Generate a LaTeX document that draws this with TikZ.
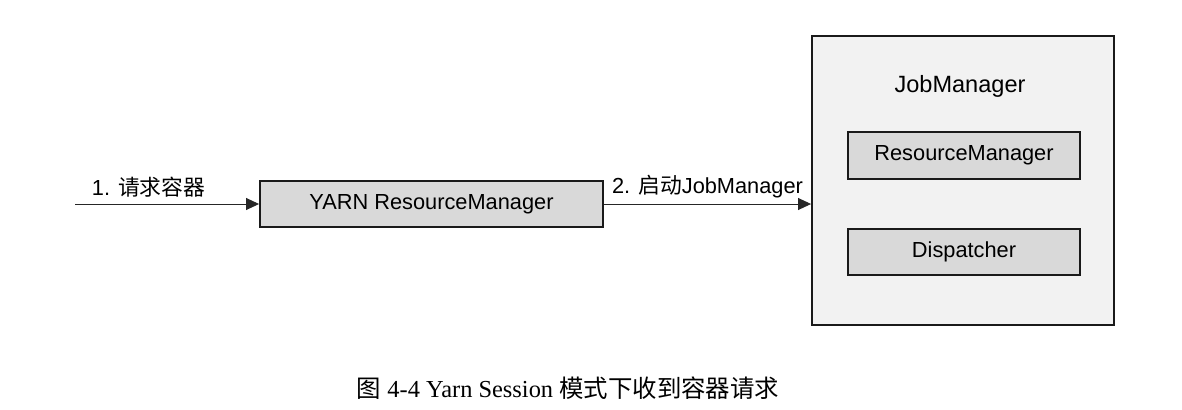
\documentclass[tikz,border=0pt]{standalone}
\usepackage{fontspec}
\setmainfont{Liberation Sans}
\newfontfamily\cjk{Noto Sans CJK SC}
\newfontfamily\capfont{Liberation Serif}
\usetikzlibrary{arrows.meta,positioning}
\definecolor{boxgray}{HTML}{D9D9D9}
\definecolor{panel}{HTML}{F2F2F2}
\definecolor{edge}{HTML}{1A1A1A}

\begin{document}
\begin{tikzpicture}[x=0.02cm,y=-0.02cm,font=\fontsize{12.4pt}{14pt}\selectfont,
  comp/.style={draw=edge,line width=1.1pt,fill=boxgray,minimum height=0.93cm,inner sep=0pt},
  arr/.style={-{Triangle[length=7.4pt,width=6.8pt]},line width=0.5pt,draw=black!85}]
\useasboundingbox (0,0) rectangle (1182,409);
% JobManager container
\node[draw=edge,line width=1.1pt,fill=panel,minimum width=6.04cm,minimum height=5.78cm] (jm) at (963,180.5) {};
\node[font=\fontsize{13.4pt}{16pt}\selectfont] (jmtitle) at (960,86) {JobManager};
\node[comp,minimum width=4.64cm] (rm) at (964,155.5) {ResourceManager};
\node[comp,minimum width=4.64cm,below=0.96cm of rm] (disp) {Dispatcher};
% YARN side
\node[comp,minimum width=6.86cm] (yarn) at (431.5,204) {YARN ResourceManager};
\coordinate (client) at (75,204);
\draw[arr](client)--node[above=0pt,pos=0.4]{1. {\cjk 请求容器}}(yarn);
\draw[arr](yarn.east)--node[above=0pt]{2. {\cjk 启动}JobManager}(yarn.east-|jm.west);
% caption
\node[font=\capfont\fontsize{13.9pt}{17pt}\selectfont] (caption) at (568,388) {{\cjk 图} 4-4 Yarn Session {\cjk 模式下收到容器请求}};
\end{tikzpicture}
\end{document}
